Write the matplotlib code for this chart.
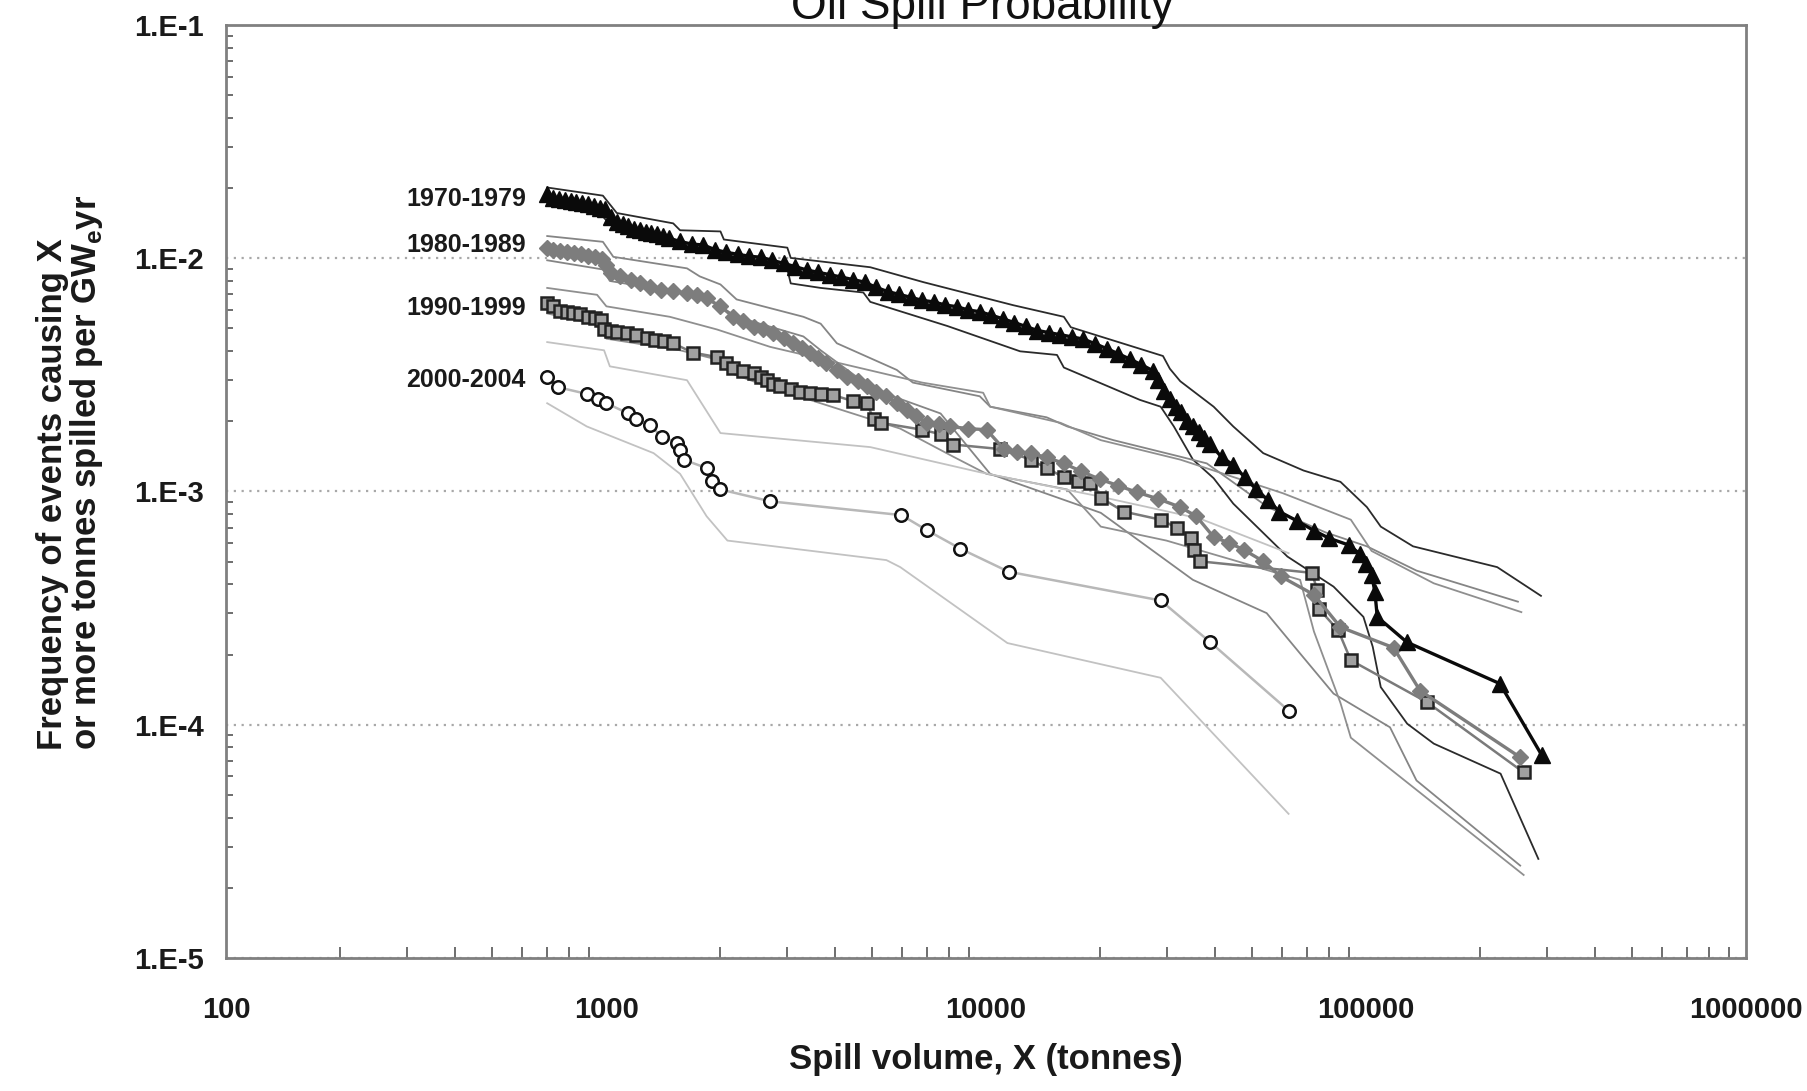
import matplotlib
matplotlib.use('Agg')
import matplotlib.pyplot as plt
from matplotlib.ticker import FixedLocator, FixedFormatter, NullFormatter, LogLocator

plt.rcParams['mathtext.fontset'] = 'custom'
plt.rcParams['mathtext.bf'] = 'Liberation Sans:bold'
plt.rcParams['mathtext.rm'] = 'Liberation Sans:bold'

FONT = ['Liberation Sans', 'DejaVu Sans']

# 1970-1979 (triangles)
t_x = [700, 727, 752, 779, 807, 835, 865, 896, 928, 961, 995,
       1030, 1067, 1105, 1144, 1185, 1227, 1270, 1315, 1362, 1410, 1460,
       1566, 1680, 1801, 1931, 2071, 2221, 2381, 2553, 2738, 2936,
       3149, 3377, 3621, 3883, 4164, 4465, 4788, 5134, 5506, 5904,
       6331, 6789, 7280, 7806, 8371, 8976, 9625, 10320, 11070, 11870,
       12720, 13650, 14630, 15690, 16830, 18040, 19350, 20750, 22250, 23860,
       25580, 27430, 28410, 29410, 30450, 31540, 32660, 33820, 35020, 36260,
       37550, 38880, 41710, 44720, 47960, 51430, 55140, 59130, 65600, 72910,
       80000, 89900, 96400, 100000, 103400, 105500, 107000, 128000, 225000, 290000]
t_y = [0.0188, 0.0182, 0.0180, 0.0178, 0.0176, 0.0174, 0.0172, 0.0170, 0.0168, 0.0165, 0.0162,
       0.0150, 0.0143, 0.0140, 0.0137, 0.0134, 0.0132, 0.0130, 0.0128, 0.0127, 0.0125, 0.0122,
       0.0118, 0.0115, 0.0114, 0.0109, 0.0106, 0.0104, 0.0102, 0.0101, 0.0098, 0.0095,
       0.0092, 0.0089, 0.0087, 0.0085, 0.0083, 0.0081, 0.0079, 0.0075, 0.0072, 0.0070,
       0.0068, 0.0066, 0.0065, 0.0063, 0.0062, 0.0060, 0.0059, 0.0057, 0.0055, 0.0053,
       0.0051, 0.0049, 0.0048, 0.0047, 0.0046, 0.0045, 0.0043, 0.0041, 0.0039, 0.0037,
       0.0035, 0.0033, 0.0030, 0.0027, 0.0025, 0.0023, 0.0022, 0.0020, 0.0019, 0.0018,
       0.0017, 0.0016, 0.0014, 0.0013, 0.00115, 0.00102, 0.00092, 0.00082, 0.00075, 0.00068,
       0.00063, 0.00059, 0.00054, 0.00049, 0.00044, 0.00037, 0.00029, 0.000226, 0.000150, 0.000074]

# 1980-1989 (diamonds)
d_x = [700, 727, 758, 790, 824, 859, 896, 934, 974, 1002, 1030,
       1089, 1160, 1227, 1306, 1391, 1502, 1633, 1739, 1839, 2000,
       2160, 2299, 2448, 2589, 2757, 2936, 3105, 3283, 3448, 3621,
       3802, 4049, 4311, 4591, 4854, 5134, 5467, 5821, 6198, 6555,
       6980, 7538, 8026, 8976, 10030, 11140, 12030, 13090, 14430, 16020,
       17790, 19890, 22250, 24880, 28410, 32430, 35760, 39700, 43480, 47630,
       53620, 59550, 72910, 85620, 118100, 138700, 254400]
d_y = [0.01105, 0.01086, 0.01074, 0.01062, 0.0105, 0.01038, 0.01026, 0.01014, 0.00992, 0.00937, 0.00865,
       0.00836, 0.00808, 0.0078, 0.00754, 0.00732, 0.00721, 0.00709, 0.00697, 0.00673, 0.00622,
       0.00561, 0.00536, 0.00509, 0.00495, 0.00478, 0.00457, 0.00432, 0.00413, 0.00392, 0.00372,
       0.00356, 0.00332, 0.0031, 0.00297, 0.00282, 0.00268, 0.00256, 0.00239, 0.00223, 0.00211,
       0.00197, 0.00195, 0.0019, 0.00186, 0.00184, 0.00152, 0.00148, 0.00146, 0.0014, 0.00132,
       0.00122, 0.00113, 0.00106, 0.000994, 0.000929, 0.000857, 0.000783, 0.000638, 0.000603, 0.000563,
       0.000502, 0.000433, 0.000361, 0.000262, 0.000214, 0.00014, 7.25e-5]

# 1990-1999 (squares)
s_x = [700, 727, 758, 790, 818, 853, 896, 934, 967, 988,
       1030, 1067, 1136, 1201, 1279, 1343, 1420, 1502, 1691, 1958,
       2071, 2160, 2299, 2448, 2553, 2644, 2757, 2875, 3062, 3237,
       3448, 3671, 3965, 4465, 4854, 5062, 5279, 6789, 7591, 8196,
       10910, 13090, 14430, 16020, 17420, 18810, 20040, 23040, 28800, 31770,
       34530, 35270, 36530, 71920, 74460, 75000, 84450, 91170, 144600, 259800]
s_y = [0.00643, 0.00622, 0.00594, 0.00587, 0.0058, 0.00574, 0.00561, 0.00555, 0.00542, 0.00495,
       0.0049, 0.00484, 0.00478, 0.00468, 0.00457, 0.00447, 0.00442, 0.00432, 0.00394, 0.00377,
       0.00356, 0.0034, 0.00329, 0.00321, 0.0031, 0.003, 0.0029, 0.00283, 0.00274, 0.00268,
       0.00265, 0.00263, 0.00259, 0.00244, 0.00239, 0.00204, 0.00197, 0.00184, 0.00176, 0.00159,
       0.00152, 0.00137, 0.00126, 0.00115, 0.00111, 0.00109, 0.00094, 0.00082, 0.000757, 0.000699,
       0.000631, 0.000563, 0.000502, 0.000448, 0.000378, 0.000315, 0.000254, 0.000189, 0.000125, 6.25e-5]

# 2000-2004 (circles)
c_x = [700, 747, 890, 954, 1002, 1144, 1201, 1306, 1400, 1534, 1566, 1599,
       1839, 1905, 2000, 2701, 5987, 6980, 8550, 11460, 28800, 38880, 62520]
c_y = [0.0031, 0.0028, 0.00262, 0.0025, 0.00239, 0.00216, 0.00204, 0.00192, 0.00172, 0.00162, 0.0015, 0.00137,
       0.00126, 0.00111, 0.00102, 0.000908, 0.000792, 0.000683, 0.000569, 0.000453, 0.000341, 0.000226, 0.000115]

# bound lines around each decade
b70u_x = [700, 981, 1067, 1502, 1566, 2000, 2042, 2999, 3062, 3671, 4958, 6836, 11790, 16020, 16710,
          29210, 30450, 32430, 39700, 44720, 53620, 68460, 85620, 100500, 109300, 132900, 221300, 288500]
b70u_y = [0.0201, 0.01855, 0.01563, 0.01411, 0.01318, 0.01303, 0.01203, 0.0111, 0.01003, 0.00969, 0.00915,
          0.0079, 0.00629, 0.00561, 0.00506, 0.00381, 0.00336, 0.00297, 0.00231, 0.0019, 0.00146, 0.00123,
          0.0011, 0.000857, 0.000707, 0.000582, 0.000474, 0.000357]
b70l_x = [700, 981, 1023, 1471, 1534, 2000, 2086, 2999, 3062, 3671, 4753, 4958, 7915, 12290, 15370, 16020,
          25400, 28800, 31200, 35020, 39700, 44720, 62090, 82100, 98400, 104100, 109300, 128300, 150700,
          225900, 284000]
b70l_y = [0.01732, 0.0151, 0.01395, 0.01245, 0.01124, 0.01074, 0.01003, 0.00895, 0.0078, 0.00746, 0.00713,
          0.0065, 0.00512, 0.00399, 0.00385, 0.0034, 0.00247, 0.00231, 0.0019, 0.00137, 0.00114, 0.000887,
          0.000526, 0.000391, 0.00029, 0.000216, 0.000145, 0.000101, 8.3e-5, 6.17e-5, 2.66e-5]
b80u_x = [700, 981, 1045, 1633, 1764, 2000, 2205, 3306, 3671, 4049, 5821, 6418, 9625, 10250, 14430, 16360,
          21630, 32430, 38080, 55140, 78180, 100500, 135700, 250900]
b80u_y = [0.01245, 0.01176, 0.01014, 0.00905, 0.00836, 0.00772, 0.00666, 0.00561, 0.00524, 0.00432, 0.00332,
          0.00293, 0.00256, 0.00231, 0.00208, 0.0019, 0.00166, 0.00141, 0.00132, 0.000857, 0.000668,
          0.000582, 0.000458, 0.000337]
b80l_x = [700, 981, 1023, 1764, 2000, 2205, 3306, 3671, 5062, 7591, 10250, 20040, 35020, 54740, 67050,
          82100, 115600, 135700, 254400]
b80l_y = [0.0098, 0.00895, 0.00799, 0.00689, 0.00622, 0.00561, 0.00462, 0.00403, 0.00274, 0.00216, 0.00119,
          0.00081, 0.000418, 0.000301, 0.000202, 0.000136, 9.75e-5, 5.77e-5, 2.49e-5]
b90u_x = [700, 947, 1002, 1471, 1958, 2701, 4465, 6789, 9826, 10250, 15690, 20040, 32430, 60390, 91170,
          103400, 150700, 256200]
b90u_y = [0.00746, 0.00697, 0.00622, 0.00561, 0.00495, 0.00417, 0.00344, 0.00293, 0.00265, 0.00231, 0.00197,
          0.00166, 0.00137, 0.000983, 0.000757, 0.000556, 0.000404, 0.000304]
b90l_x = [700, 947, 1002, 1566, 1958, 2130, 2701, 5945, 8196, 10030, 16360, 20040, 29820, 44720, 67050,
          72910, 85620, 91170, 259800]
b90l_y = [0.0058, 0.00518, 0.00452, 0.00403, 0.00368, 0.00321, 0.0028, 0.00186, 0.00141, 0.00119, 0.00102,
          0.000707, 0.000616, 0.000508, 0.000418, 0.000251, 0.000124, 8.8e-5, 2.27e-5]
b00u_x = [700, 988, 1023, 1633, 2000, 4958, 9625, 19350, 36530, 62520]
b00u_y = [0.00437, 0.00403, 0.00344, 0.003, 0.00178, 0.00155, 0.00121, 0.000961, 0.000765, 0.000544]
b00l_x = [700, 890, 1334, 1566, 1839, 2086, 5467, 5945, 11380, 28800, 62520]
b00l_y = [0.00239, 0.0019, 0.00146, 0.00119, 0.000783, 0.000616, 0.000508, 0.000474, 0.000224, 0.000159, 4.15e-5]

period_labels = ['1970-1979', '1980-1989', '1990-1999', '2000-2004']
label_y = [0.018, 0.0114, 0.0061, 0.0030]
y_ticks = [1e-5, 1e-4, 1e-3, 1e-2, 1e-1]
y_ticklabels = ['1.E-5', '1.E-4', '1.E-3', '1.E-2', '1.E-1']
x_ticks = [100, 1000, 10000, 100000, 1000000]
x_ticklabels = ['100', '1000', '10000', '100000', '1000000']

fig = plt.figure(figsize=(18.07, 10.91), dpi=100)
ax = fig.add_axes([0.1251, 0.1219, 0.8412, 0.8552])
ax.set_xscale('log')
ax.set_yscale('log')
ax.set_xlim(100, 1000000)
ax.set_ylim(1e-5, 1e-1)

# bounds
bounds = [(b70u_x, b70u_y, '#2b2b2b'), (b70l_x, b70l_y, '#2b2b2b'),
          (b80u_x, b80u_y, '#858585'), (b80l_x, b80l_y, '#858585'),
          (b90u_x, b90u_y, '#8f8f8f'), (b90l_x, b90l_y, '#8f8f8f'),
          (b00u_x, b00u_y, '#c2c2c2'), (b00l_x, b00l_y, '#c2c2c2')]
for bx, by, col in bounds:
    ax.plot(bx, by, color=col, lw=1.3, zorder=2)

# series
ax.plot(c_x, c_y, color='#b8b8b8', lw=1.8, zorder=3)
ax.plot(c_x, c_y, ls='none', marker='o', ms=9, mfc='white', mec='#111111', mew=1.8, zorder=4)

ax.plot(s_x, s_y, color='#7a7a7a', lw=1.8, zorder=3)
ax.plot(s_x, s_y, ls='none', marker='s', ms=9, mfc='#a0a0a0', mec='#222222', mew=1.8, zorder=4)

ax.plot(d_x, d_y, color='#7d7d7d', lw=2.4, marker='D', ms=8, mfc='#7d7d7d', mec='#7d7d7d', zorder=5)

ax.plot(t_x, t_y, color='#0a0a0a', lw=2.4, marker='^', ms=11, mfc='#0a0a0a', mec='#0a0a0a', zorder=6)

for lab, ly in zip(period_labels, label_y):
    ax.text(615, ly, lab, ha='right', va='center', fontsize=18, fontweight='bold',
            family=FONT, color='#1a1a1a')

# grid and frame
ax.yaxis.grid(True, which='major', linestyle=(0, (1, 2.5)), color='#a8a8a8', lw=1.6)
for sp in ax.spines.values():
    sp.set_color('#808080')
    sp.set_linewidth(2)

ax.xaxis.set_major_locator(FixedLocator(x_ticks))
ax.xaxis.set_major_formatter(FixedFormatter(x_ticklabels))
ax.yaxis.set_major_locator(FixedLocator(y_ticks))
ax.yaxis.set_major_formatter(FixedFormatter(y_ticklabels))
ax.xaxis.set_minor_locator(LogLocator(base=10, subs=range(2, 10)))
ax.yaxis.set_minor_locator(LogLocator(base=10, subs=range(2, 10)))
ax.xaxis.set_minor_formatter(NullFormatter())
ax.yaxis.set_minor_formatter(NullFormatter())
ax.tick_params(which='both', direction='in', color='#555555', width=1.2)
ax.tick_params(which='major', length=0)
ax.tick_params(axis='x', which='minor', length=8)
ax.tick_params(axis='y', which='minor', length=5)
ax.tick_params(axis='x', which='major', pad=27)
ax.tick_params(axis='y', which='major', pad=16)
for lbl in ax.get_xticklabels() + ax.get_yticklabels():
    lbl.set_family(FONT)
    lbl.set_fontweight('bold')
    lbl.set_fontsize(21)
    lbl.set_color('#1a1a1a')

ax.set_xlabel('Spill volume, X (tonnes)', family=FONT, fontweight='bold',
              fontsize=25, color='#1a1a1a', labelpad=14)

fig.text(0.0288, 0.547, 'Frequency of events causing X', rotation=90, ha='center', va='center',
         family=FONT, fontweight='bold', fontsize=25, color='#1a1a1a')
fig.text(0.0477, 0.567, r'or more tonnes spilled per GW$_\mathbf{e}$yr', rotation=90,
         ha='center', va='center', family=FONT, fontweight='bold', fontsize=25, color='#1a1a1a')

fig.text(0.5435, 0.9826, 'Oil Spill Probability', ha='center', va='baseline',
         family=FONT, fontsize=33, color='#111111')

fig.savefig('out.png', dpi=100)
